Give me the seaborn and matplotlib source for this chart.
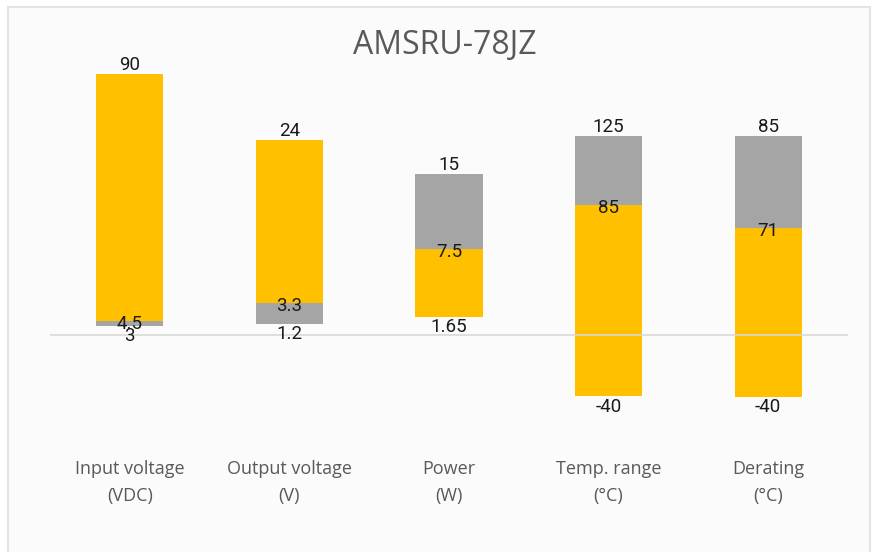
import matplotlib
matplotlib.use("Agg")
import matplotlib.pyplot as plt
import seaborn as sns
from matplotlib.patches import Rectangle

# categories and the printed data labels
categories = ["Input voltage\n(VDC)", "Output voltage\n(V)", "Power\n(W)",
              "Temp. range\n(°C)", "Derating\n(°C)"]
low_labels = ["3", "1.2", "1.65", "-40", "-40"]
mid_labels = ["4.5", "3.3", "7.5", "85", "71"]
high_labels = ["90", "24", "15", "125", "85"]

# bar extents as drawn (chart units above the zero line)
bar_low = [8.8, 10.8, 17.8, -61.5, -62.0]
bar_mid = [13.5, 31.5, 85.5, 129.5, 107.0]
bar_high = [260.5, 194.5, 160.5, 198.5, 198.5]

# which colour the lower segment gets ('gray' or 'yellow')
lower_colour = ["gray", "gray", "yellow", "yellow", "yellow"]

YELLOW = "#FFC000"
GRAY = "#A5A5A5"
TEXT = "#595959"

sns.set_theme(style="white")
plt.rcParams["font.family"] = ["Open Sans", "DejaVu Sans"]

W, H = 875, 552
fig = plt.figure(figsize=(W / 100, H / 100), dpi=100)
fig.patch.set_facecolor("white")

# chart frame
fig.patches.append(Rectangle((8 / W, -0.05), 862 / W, (H - 7) / H + 0.05,
                             transform=fig.transFigure, facecolor="#FBFBFB",
                             edgecolor="#E3E3E3", linewidth=1.5, zorder=-10))

ax_top, ax_bot = 60, 420
ax = fig.add_axes([50 / W, (H - ax_bot) / H, 798 / W, (ax_bot - ax_top) / H])
ax.set_facecolor("none")
zero_y = 334.5
ax.set_ylim(zero_y - ax_bot, zero_y - ax_top)
ax.set_xlim(-0.5, len(categories) - 0.5)

x = list(range(len(categories)))
width = 0.42
col_map = {"gray": GRAY, "yellow": YELLOW}
for i in x:
    lo_c = col_map[lower_colour[i]]
    hi_c = YELLOW if lower_colour[i] == "gray" else GRAY
    ax.bar(i, bar_mid[i] - bar_low[i], bottom=bar_low[i], width=width,
           color=lo_c, linewidth=0, zorder=2)
    ax.bar(i, bar_high[i] - bar_mid[i], bottom=bar_mid[i], width=width,
           color=hi_c, linewidth=0, zorder=2)

lab_kw = dict(ha="center", fontsize=13.5, color="#1A1A1A",
              family=["Roboto", "DejaVu Sans"], zorder=4)
for i in x:
    ax.text(i, bar_high[i] - 0.5, high_labels[i], va="bottom", **lab_kw)
    ax.text(i, bar_mid[i] - 3, mid_labels[i], va="center", **lab_kw)
    ax.text(i, bar_low[i] - 1.5, low_labels[i], va="top", **lab_kw)

ax.axhline(0, color="#D9D9D9", linewidth=1.2, zorder=3)

ax.set_xticks(x)
ax.set_xticklabels(categories, fontsize=13, color=TEXT, linespacing=1.6)
ax.tick_params(axis="x", length=0, pad=29)
ax.set_yticks([])
for s in ax.spines.values():
    s.set_visible(False)

fig.text(445 / W, 1 - 46 / H, "AMSRU-78JZ", ha="center", va="center",
         fontsize=23, color=TEXT)

fig.savefig("out.png", dpi=100)
